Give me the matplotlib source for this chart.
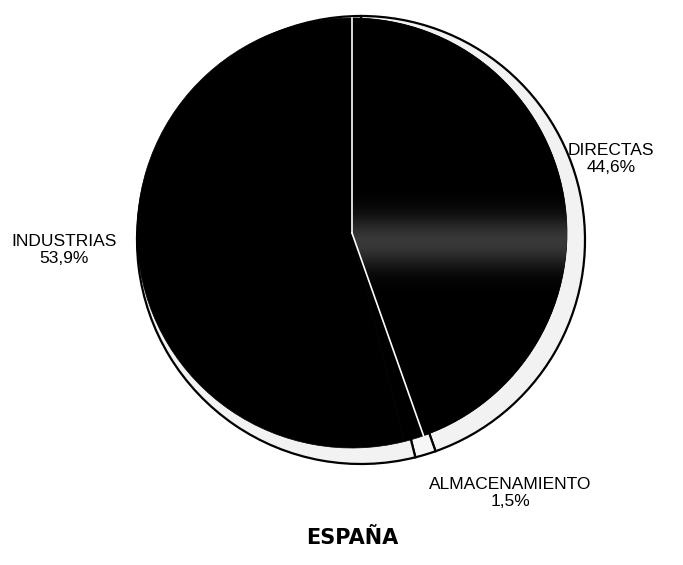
import numpy as np
import matplotlib
matplotlib.use('Agg')
import matplotlib.pyplot as plt

# Data
categories = ['DIRECTAS', 'ALMACENAMIENTO', 'INDUSTRIAS']
shares = [44.6, 1.5, 53.9]
labels = ['DIRECTAS\n44,6%', 'ALMACENAMIENTO\n1,5%', 'INDUSTRIAS\n53,9%']
title = 'ESPAÑA'

plt.rcParams['font.family'] = ['Liberation Sans', 'DejaVu Sans']

H = 565
fig = plt.figure(figsize=(6.83, 5.65), dpi=100)
ax = fig.add_axes([0, 0, 1, 1])

# outer rim (light, outlined)
ax.pie(shares, startangle=90, counterclock=False, center=(361, H - 240), radius=224,
       colors=['#f2f2f2', '#f6f6f6', '#f2f2f2'],
       wedgeprops=dict(edgecolor='black', linewidth=1.6), frame=True)
# inner dark pie
cx, cy, r = 352, H - 233, 215
wedges, _ = ax.pie(shares, startangle=90, counterclock=False, center=(cx, cy), radius=r,
                   colors=['black'] * 3,
                   wedgeprops=dict(edgecolor='black', linewidth=0.5), frame=True)

# faint grey scan band across the DIRECTAS slice
yy = np.linspace(0, 1, 200)[:, None]
band = np.exp(-((yy - 0.48) / 0.06) ** 2) * np.ones((1, 10))
im = ax.imshow(band, extent=(cx, cx + r, cy - r, cy + r), cmap='gray', vmin=0, vmax=4.5,
               origin='lower', aspect='auto', zorder=wedges[0].get_zorder() + 0.1)
im.set_clip_path(wedges[0])

ax.set_xlim(0, 683)
ax.set_ylim(0, H)
ax.set_aspect('equal')
ax.axis('off')

# white separator lines inside dark pie (slice boundaries of DIRECTAS)
cum = np.cumsum([0] + shares[:1])
for c in cum:
    ang = np.deg2rad(90 - c / 100 * 360)
    ax.plot([cx, cx + r * np.cos(ang)], [cy, cy + r * np.sin(ang)],
            color='white', lw=1.2, zorder=5)

ax.text(611, H - 159, labels[0], ha='center', va='center', fontsize=12.5, linespacing=1.2)
ax.text(510, H - 493, labels[1], ha='center', va='center', fontsize=12.5, linespacing=1.2)
ax.text(64, H - 250, labels[2], ha='center', va='center', fontsize=12.5, linespacing=1.2)
ax.text(352, H - 538, title, ha='center', va='center', fontsize=15, fontweight='bold',
        family=['DejaVu Sans'])

fig.savefig('out.png', dpi=100)
